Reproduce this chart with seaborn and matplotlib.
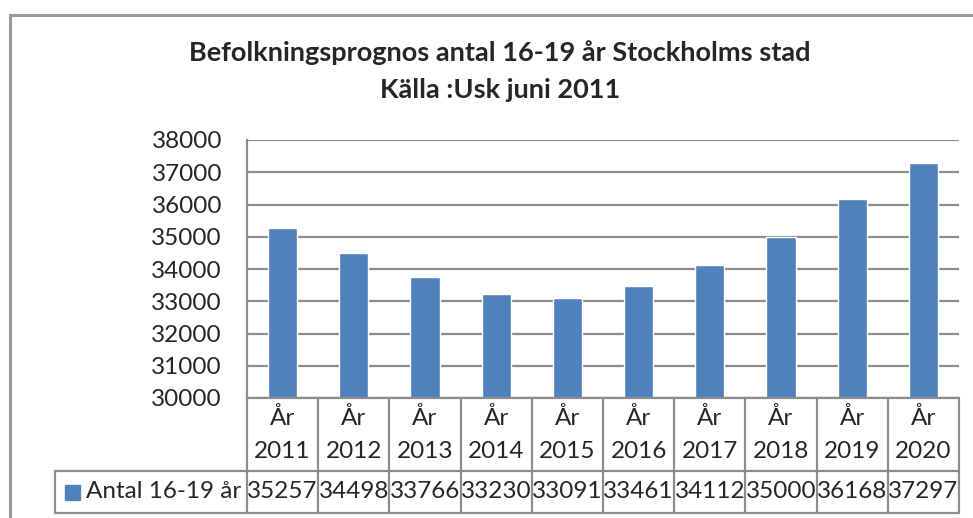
import matplotlib
matplotlib.use("Agg")
import matplotlib.pyplot as plt
import matplotlib.transforms as mtransforms
from matplotlib.patches import Rectangle
import pandas as pd
import seaborn as sns

BAR_COLOR = "#4F81BD"
GRID_COLOR = "#8C8C8C"

years = ["2011", "2012", "2013", "2014", "2015", "2016", "2017", "2018", "2019", "2020"]
values = [35257, 34498, 33766, 33230, 33091, 33461, 34112, 35000, 36168, 37297]
series_name = "Antal 16-19 år"
title_lines = ["Befolkningsprognos antal 16-19 år Stockholms stad", "Källa :Usk juni 2011"]
yticks = [30000, 31000, 32000, 33000, 34000, 35000, 36000, 37000, 38000]

sns.set_style("white")
plt.rcParams["font.family"] = ["Lato", "DejaVu Sans"]
FS = 17.5

W, H = 973, 518
fig = plt.figure(figsize=(W / 100, H / 100), dpi=100)

# plot area in pixel coords (left, top, right, bottom)
L, T, R, B = 247, 140, 959, 398
ax = fig.add_axes([L / W, 1 - B / H, (R - L) / W, (B - T) / H])

df = pd.DataFrame({"year": years, "value": values})
sns.barplot(data=df, x="year", y="value", color=BAR_COLOR, width=0.41,
            saturation=1, ax=ax, zorder=3)
ax.set_ylim(30000, 38000)
ax.set_xlim(-0.5, len(years) - 0.5)
ax.set_yticks(yticks)
ax.set_yticklabels([str(v) for v in yticks], fontsize=FS)
ax.tick_params(axis="y", length=0, pad=18)
ax.set_xticks([])
ax.set_xlabel("")
ax.set_ylabel("")
for v in yticks:
    ax.axhline(v, color=GRID_COLOR, lw=1.6, zorder=1)
for s in ["top", "right", "bottom"]:
    ax.spines[s].set_visible(False)
ax.spines["left"].set_color(GRID_COLOR)
ax.spines["left"].set_linewidth(1.6)

# outer chart frame
fig.add_artist(Rectangle((10 / W, -0.1), 1.2, 1 - 15 / H + 0.1,
                         transform=fig.transFigure, fill=False,
                         edgecolor="#9A9A9A", lw=2.2))


def ypix(p):
    return 1 - p / H


fig.text(500 / W, ypix(53), title_lines[0], ha="center", va="center",
         fontsize=19.5, fontweight="bold")
fig.text(500 / W, ypix(90), title_lines[1], ha="center", va="center",
         fontsize=19.5, fontweight="bold")

# data table below the plot area
trans = mtransforms.blended_transform_factory(ax.transData, fig.transFigure)
row1_top, row1_bot, row2_bot = B, 471, 513
n = len(years)
for i, (yr, val) in enumerate(zip(years, values)):
    fig.lines.append(plt.Line2D([i + 0.5, i + 0.5], [ypix(row1_top), ypix(row2_bot)],
                                transform=trans, color=GRID_COLOR, lw=1.6))
    fig.text(i, ypix(418), "År", transform=trans, ha="center", va="center", fontsize=FS)
    fig.text(i, ypix(451), yr, transform=trans, ha="center", va="center", fontsize=FS)
    fig.text(i, ypix(492), str(val), transform=trans, ha="center", va="center", fontsize=FS)

fig.lines.append(plt.Line2D([-0.5, -0.5], [ypix(row1_top), ypix(row2_bot)],
                            transform=trans, color=GRID_COLOR, lw=1.6))
fig.lines.append(plt.Line2D([-0.5, n - 0.5], [ypix(row1_top)] * 2,
                            transform=trans, color=GRID_COLOR, lw=1.6))
for yy in [row1_bot, row2_bot]:
    fig.lines.append(plt.Line2D([55 / W, R / W], [ypix(yy)] * 2,
                                transform=fig.transFigure, color=GRID_COLOR, lw=1.6))
fig.lines.append(plt.Line2D([55 / W, 55 / W], [ypix(row1_bot), ypix(row2_bot)],
                            transform=fig.transFigure, color=GRID_COLOR, lw=1.6))

fig.add_artist(Rectangle((65 / W, ypix(500)), 15 / W, 15 / H,
                         transform=fig.transFigure, color=BAR_COLOR))
fig.text(86 / W, ypix(492), series_name, ha="left", va="center", fontsize=FS)

fig.savefig("out.png", dpi=100)
